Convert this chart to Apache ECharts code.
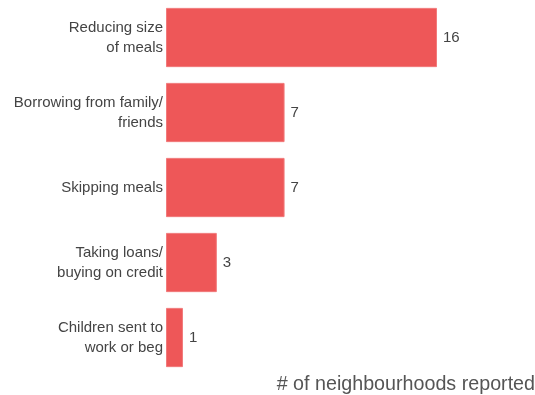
<!DOCTYPE html>
<html>
<head>
<meta charset="utf-8">
<script src="https://cdn.jsdelivr.net/npm/echarts@6/dist/echarts.min.js"></script>
<style>
  html, body { margin: 0; padding: 0; background: #fff; }
  #chart { width: 535px; height: 395px; }
</style>
</head>
<body>
<div id="chart"></div>
<script>
var categories = [
  'Reducing size\nof meals',
  'Borrowing from family/\nfriends',
  'Skipping meals',
  'Taking loans/\nbuying on credit',
  'Children sent to\nwork or beg'
];
var counts = [16, 7, 7, 3, 1];
var axisTitle = '# of neighbourhoods reported';

var chart = echarts.init(document.getElementById('chart'));

var option = {
  animation: false,
  textStyle: { fontFamily: 'Liberation Sans, Arial, sans-serif' },
  grid: {
    left: 166,
    right: 98,
    top: 0,
    height: 375
  },
  xAxis: {
    type: 'value',
    min: 0,
    max: 16,
    show: false
  },
  yAxis: {
    type: 'category',
    data: categories,
    inverse: true,
    axisLine: { show: false },
    axisTick: { show: false },
    axisLabel: {
      margin: 3,
      fontSize: 15,
      lineHeight: 20,
      color: '#444',
      align: 'right',
      padding: [4, 0, 0, 0]
    }
  },
  series: [{
    type: 'bar',
    data: counts,
    barCategoryGap: '21%',
    itemStyle: {
      color: '#ee5758',
      borderColor: '#f27a7b',
      borderWidth: 1
    },
    label: {
      show: true,
      position: 'right',
      distance: 6,
      fontSize: 15,
      color: '#444',
      padding: [4, 0, 0, 0]
    }
  }],
  graphic: [{
    type: 'text',
    right: 0,
    bottom: 0,
    style: {
      text: axisTitle,
      fontSize: 19.7,
      fill: '#555',
      fontFamily: 'Liberation Sans, Arial, sans-serif'
    }
  }]
};

chart.setOption(option);
</script>
</body>
</html>
